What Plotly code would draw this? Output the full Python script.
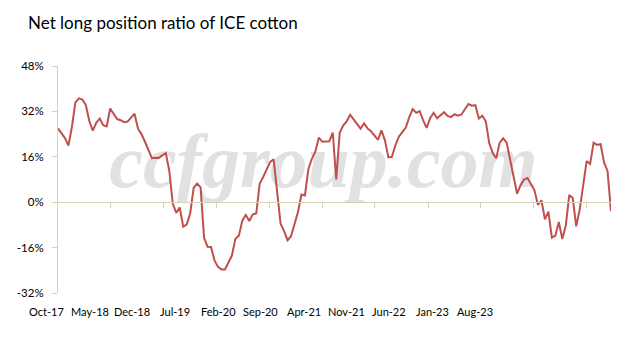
import pandas as pd
import plotly.graph_objects as go

# ICE cotton: net long position as % of open interest, fortnightly readings
net_long = [
    26.0, 24.4, 22.6, 20.0, 26.5, 35.2, 36.6, 36.2, 34.3, 28.6,
    25.2, 28.0, 29.5, 27.1, 26.7, 33.0, 31.0, 29.3, 28.9, 28.2,
    28.4, 29.9, 31.2, 25.9, 24.0, 21.3, 18.4, 15.5, 15.7, 15.6,
    16.5, 17.3, 11.0, -0.5, -3.8, -1.8, -8.6, -7.9, -4.0, 5.0,
    6.6, 5.2, -12.5, -15.7, -15.8, -20.5, -22.8, -23.7, -23.7, -21.1,
    -18.8, -12.9, -11.8, -6.5, -4.5, -6.6, -4.3, -4.0, 6.6, 8.9,
    11.6, 14.2, 15.1, 3.0, -7.6, -10.2, -13.4, -12.0, -7.5, -3.5,
    2.7, 2.4, 11.7, 15.3, 17.9, 22.8, 21.3, 21.4, 21.5, 24.5,
    8.0, 24.5, 27.0, 28.5, 30.8, 29.2, 27.6, 25.9, 27.8, 26.0,
    25.0, 23.4, 22.0, 25.3, 21.8, 15.8, 16.0, 20.0, 23.1, 24.7,
    26.3, 30.0, 32.8, 31.5, 32.1, 28.8, 26.2, 29.6, 31.5, 29.6,
    30.6, 31.7, 30.4, 30.0, 31.0, 30.5, 30.9, 33.0, 34.6, 34.0,
    34.2, 29.5, 30.5, 28.5, 20.8, 17.3, 15.5, 21.0, 22.5, 21.0,
    15.0, 9.1, 3.0, 6.0, 8.0, 8.5, 6.5, 4.2, -1.0, 0.7,
    -6.0, -3.3, -12.5, -11.8, -7.0, -13.0, -8.2, 2.5, 1.5, -8.5,
    -2.6, 7.0, 14.5, 13.5, 21.0, 20.2, 20.5, 14.0, 11.0, -3.2,
]

# Tick marks every seven months along the zero line
tick_dates = [
    "2017-10-01", "2018-05-01", "2018-12-01", "2019-07-01", "2020-02-01",
    "2020-09-01", "2021-04-01", "2021-11-01", "2022-06-01", "2023-01-01",
    "2023-08-01",
]
tick_labels = [
    "Oct-17", "May-18", "Dec-18", "Jul-19", "Feb-20", "Sep-20",
    "Apr-21", "Nov-21", "Jun-22", "Jan-23", "Aug-23",
]
y_ticks = [-32, -16, 0, 16, 32, 48]

dates = pd.date_range("2017-10-03", periods=len(net_long), freq="14D")

W, H = 643, 341
ML, MR, MT, MB = 58, 32, 66, 47.5
PLOT_W = W - ML - MR
PLOT_H = H - MT - MB
AXIS = "#d8d2b2"
LINE = "#c0504d"
FONT = "Lato"
y_min, y_max = y_ticks[0], y_ticks[-1]

fig = go.Figure()
fig.add_trace(go.Scatter(
    x=dates, y=net_long, mode="lines",
    line=dict(color=LINE, width=2), hoverinfo="skip",
))

fig.update_layout(
    width=W, height=H,
    margin=dict(l=ML, r=MR, t=MT, b=MB, pad=0),
    paper_bgcolor="white", plot_bgcolor="white",
    showlegend=False,
    title=dict(
        text="Net long position ratio of ICE cotton",
        font=dict(family=FONT, size=17, color="black"),
        x=28 / W, xanchor="left", xref="container",
        y=1 - 23 / H, yanchor="middle", yref="container",
    ),
    xaxis=dict(
        type="date", range=[dates[0], dates[-1]],
        anchor="free", position=(0 - y_min) / (y_max - y_min),
        showline=True, linecolor=AXIS, linewidth=1,
        ticks="outside", ticklen=5, tickwidth=1, tickcolor=AXIS,
        tickvals=tick_dates, showticklabels=False,
        showgrid=False, zeroline=False, automargin=False,
    ),
    yaxis=dict(
        range=[y_min, y_max], tickmode="array", tickvals=y_ticks,
        ticktext=[f"{v}%" for v in y_ticks],
        showline=True, linecolor=AXIS, linewidth=1,
        ticks="outside", ticklen=5, tickwidth=1, tickcolor=AXIS,
        tickfont=dict(family=FONT, size=11.5, color="black"),
        ticklabelstandoff=6,
        showgrid=False, zeroline=False, automargin=False,
    ),
)

# Category labels along the bottom edge
for i, lab in enumerate(tick_labels):
    px = 46.7 + 42.83 * i
    fig.add_annotation(
        x=(px - ML) / PLOT_W, y=(PLOT_H + MT - 312) / PLOT_H,
        xref="paper", yref="paper", text=lab, showarrow=False,
        xanchor="center", yanchor="middle",
        font=dict(family=FONT, size=11, color="black"),
    )

# Site watermark behind the series
fig.add_shape(
    type="rect", xref="paper", yref="paper",
    x0=0.2, x1=0.76, y0=0.5, y1=0.73,
    line=dict(width=0), fillcolor="rgba(0,0,0,0)", layer="below",
    label=dict(
        text="ccfgroup.com", textposition="middle center",
        font=dict(family="Liberation Serif", size=76, color="#e1e1e1",
                  weight="bold", style="italic"),
    ),
)

fig.write_html("out.html")
